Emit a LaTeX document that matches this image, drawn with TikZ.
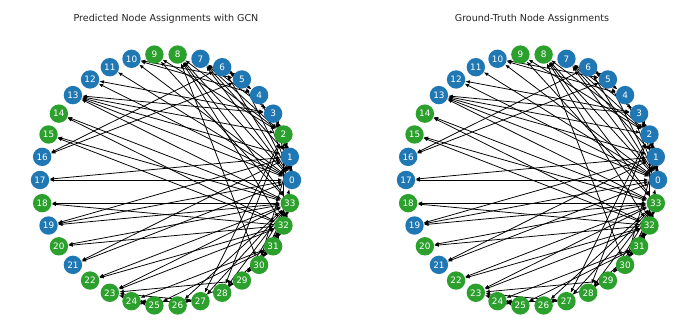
\documentclass[tikz,border=0pt]{standalone}
\usepackage{fontspec}
\setmainfont{DejaVu Sans}
\usetikzlibrary{arrows.meta, calc, backgrounds}
\definecolor{tabblue}{HTML}{1F77B4}
\definecolor{tabgreen}{HTML}{2CA02C}
\begin{document}
\begin{tikzpicture}[x=0.025cm, y=0.025cm,
  vtx/.style={circle, inner sep=0pt, minimum size=0.46cm, text=white, font=\fontsize{6.3}{7}\selectfont},
  link/.style={line width=0.55pt, black, {Latex[length=3.2pt,width=2.6pt]}-{Latex[length=3.2pt,width=2.6pt]}},
  heading/.style={font=\fontsize{6.8}{8}\selectfont, text=black!85},
]
\useasboundingbox (0,0) rectangle (679,326);
\begin{scope}[on background layer]
\fill[white] (0,0) rectangle (679,326);
\end{scope}
% titles
\node[heading] (ptitle) at (166,307) {Predicted Node Assignments with GCN};
\node[heading] (gtitle) at (532,307) {Ground-Truth Node Assignments};
% predicted labels
\foreach \i in {0,1,3,4,5,6,7,10,11,12,13,16,17,19,21}
  \node[vtx, fill=tabblue] (p\i) at ($(166,146)+({\i*360/34}:126)$) {\i};
\foreach \i in {2,8,9,14,15,18,20,22,23,...,33}
  \node[vtx, fill=tabgreen] (p\i) at ($(166,146)+({\i*360/34}:126)$) {\i};
% ground truth labels
\foreach \i in {0,1,...,7,10,11,12,13,16,17,19,21}
  \node[vtx, fill=tabblue] (g\i) at ($(532,146)+({\i*360/34}:126)$) {\i};
\foreach \i in {8,9,14,15,18,20,22,23,...,33}
  \node[vtx, fill=tabgreen] (g\i) at ($(532,146)+({\i*360/34}:126)$) {\i};
% club edges, same in both panels
\begin{scope}[on background layer]
\foreach \a/\b in {0/1,0/2,0/3,0/4,0/5,0/6,0/7,0/8,0/10,0/11,0/12,0/13,0/17,0/19,0/21,0/31,
  1/2,1/3,1/7,1/13,1/17,1/19,1/21,1/30,
  2/3,2/7,2/8,2/9,2/13,2/27,2/28,2/32,
  3/7,3/12,3/13,4/6,4/10,5/6,5/10,5/16,6/16,
  8/30,8/32,8/33,9/33,13/33,14/32,14/33,15/32,15/33,
  18/32,18/33,19/33,20/32,20/33,22/32,22/33,
  23/25,23/27,23/29,23/32,23/33,24/25,24/27,24/31,25/31,
  26/29,26/33,27/33,28/31,28/33,29/32,29/33,
  30/32,30/33,31/32,31/33,32/33} {
  \draw[link] (p\a) -- (p\b);
  \draw[link] (g\a) -- (g\b);
}
\end{scope}
\end{tikzpicture}
\end{document}
